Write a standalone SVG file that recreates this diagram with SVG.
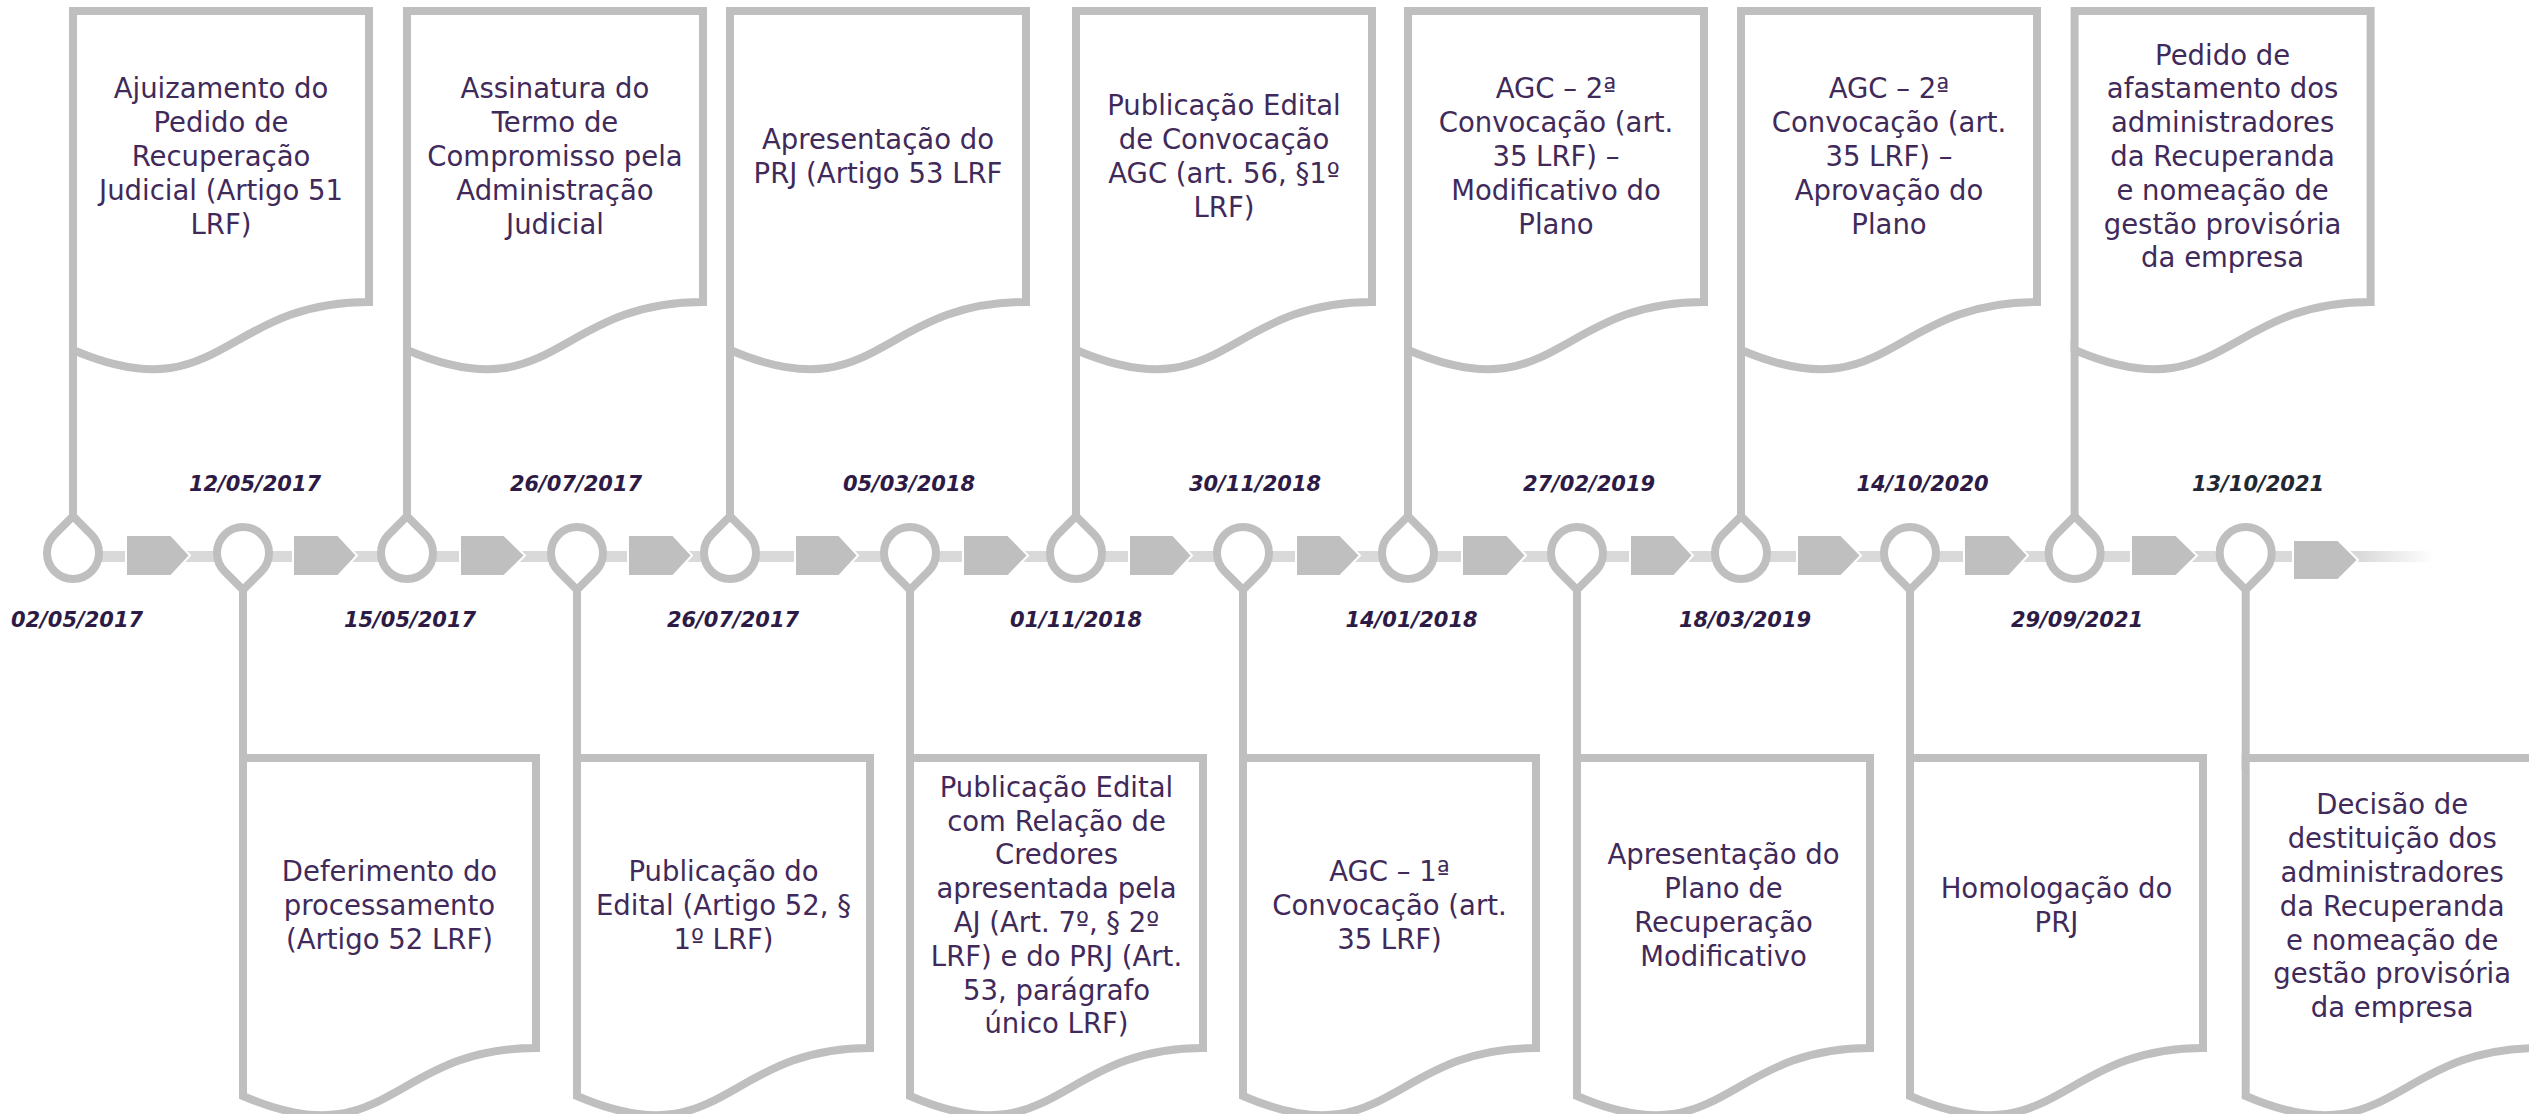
<svg xmlns="http://www.w3.org/2000/svg" width="2529" height="1114" viewBox="0 0 2529 1114">
<defs>
<style>
.box{fill:#fff;stroke:#bfbfbf;stroke-width:8;stroke-linejoin:miter}
.stem{stroke:#bfbfbf;stroke-width:8;fill:none}
.pin{fill:#fff;stroke:#bfbfbf;stroke-width:8;stroke-linejoin:miter}
.arrow{fill:#bfbfbf;stroke:#fff;stroke-width:2}
.t{font-family:"DejaVu Sans","Liberation Sans",sans-serif;font-size:27.5px;fill:#3f2a5a;text-anchor:middle}
.d{font-family:"DejaVu Sans","Liberation Sans",sans-serif;font-size:21px;font-weight:bold;font-style:italic;fill:#2d1b45;text-anchor:middle}
</style>
<linearGradient id="fade" x1="0" y1="0" x2="1" y2="0">
<stop offset="0" stop-color="#d9d9d9"/>
<stop offset="1" stop-color="#d9d9d9" stop-opacity="0"/>
</linearGradient>
</defs>
<rect width="2529" height="1114" fill="#fff"/>

<g id="connectors">
<rect x="73" y="551" width="2287" height="11" fill="#d9d9d9"/>
<rect x="2358" y="551" width="75" height="11" fill="url(#fade)"/>
<path class="arrow" d="M126,535H171L190,555.5L171,576H126Z"/>
<path class="arrow" d="M293,535H338L357,555.5L338,576H293Z"/>
<path class="arrow" d="M460,535H504L525,555.5L504,576H460Z"/>
<path class="arrow" d="M628,535H673L692,555.5L673,576H628Z"/>
<path class="arrow" d="M795,535H839L858,555.5L839,576H795Z"/>
<path class="arrow" d="M963,535H1008L1028,555.5L1008,576H963Z"/>
<path class="arrow" d="M1129,535H1173L1192,555.5L1173,576H1129Z"/>
<path class="arrow" d="M1296,535H1340L1360,555.5L1340,576H1296Z"/>
<path class="arrow" d="M1462,535H1507L1526,555.5L1507,576H1462Z"/>
<path class="arrow" d="M1630,535H1674L1693,555.5L1674,576H1630Z"/>
<path class="arrow" d="M1797,535H1841L1861,555.5L1841,576H1797Z"/>
<path class="arrow" d="M1964,535H2009L2028,555.5L2009,576H1964Z"/>
<path class="arrow" d="M2131,535H2176L2197,555.5L2176,576H2131Z"/>
<path class="arrow" d="M2293,540H2338L2358,560L2338,580H2293Z"/>
</g>

<g id="e1">
<line class="stem" x1="73" y1="340" x2="73" y2="516"/>
<path class="pin" d="M54.62,534.62L73,516.23L91.38,534.62A26,26 0 1 1 54.62,534.62Z"/>
<path class="box" d="M73,11H369V302C221,302 221,413 73,350Z"/>
<text class="t"><tspan x="221" y="98.4">Ajuizamento do</tspan><tspan x="221" y="132.2">Pedido de</tspan><tspan x="221" y="166">Recuperação</tspan><tspan x="221" y="199.8">Judicial (Artigo 51</tspan><tspan x="221" y="233.6">LRF)</tspan></text>
<text class="d" x="77" y="627">02/05/2017</text>
</g>

<g id="e2">
<line class="stem" x1="243" y1="589" x2="243" y2="770"/>
<path class="pin" d="M261.38,571.38L243,589.77L224.62,571.38A26,26 0 1 1 261.38,571.38Z"/>
<path class="box" d="M243,758H536V1048C389.5,1048 389.5,1159 243,1096Z"/>
<text class="t"><tspan x="389.5" y="881.2">Deferimento do</tspan><tspan x="389.5" y="915">processamento</tspan><tspan x="389.5" y="948.8">(Artigo 52 LRF)</tspan></text>
<text class="d" x="255" y="491">12/05/2017</text>
</g>

<g id="e3">
<line class="stem" x1="407" y1="340" x2="407" y2="516"/>
<path class="pin" d="M388.62,534.62L407,516.23L425.38,534.62A26,26 0 1 1 388.62,534.62Z"/>
<path class="box" d="M407,11H703V302C555,302 555,413 407,350Z"/>
<text class="t"><tspan x="555" y="98.4">Assinatura do</tspan><tspan x="555" y="132.2">Termo de</tspan><tspan x="555" y="166">Compromisso pela</tspan><tspan x="555" y="199.8">Administração</tspan><tspan x="555" y="233.6">Judicial</tspan></text>
<text class="d" x="410" y="627">15/05/2017</text>
</g>

<g id="e4">
<line class="stem" x1="577" y1="589" x2="577" y2="770"/>
<path class="pin" d="M595.38,571.38L577,589.77L558.62,571.38A26,26 0 1 1 595.38,571.38Z"/>
<path class="box" d="M577,758H870V1048C723.5,1048 723.5,1159 577,1096Z"/>
<text class="t"><tspan x="723.5" y="881.2">Publicação do</tspan><tspan x="723.5" y="915">Edital (Artigo 52, §</tspan><tspan x="723.5" y="948.8">1º LRF)</tspan></text>
<text class="d" x="576" y="491">26/07/2017</text>
</g>

<g id="e5">
<line class="stem" x1="730" y1="340" x2="730" y2="516"/>
<path class="pin" d="M711.62,534.62L730,516.23L748.38,534.62A26,26 0 1 1 711.62,534.62Z"/>
<path class="box" d="M730,11H1026V302C878,302 878,413 730,350Z"/>
<text class="t"><tspan x="878" y="149.1">Apresentação do</tspan><tspan x="878" y="182.9">PRJ (Artigo 53 LRF</tspan></text>
<text class="d" x="733" y="627">26/07/2017</text>
</g>

<g id="e6">
<line class="stem" x1="910" y1="589" x2="910" y2="770"/>
<path class="pin" d="M928.38,571.38L910,589.77L891.62,571.38A26,26 0 1 1 928.38,571.38Z"/>
<path class="box" d="M910,758H1203V1048C1056.5,1048 1056.5,1159 910,1096Z"/>
<text class="t"><tspan x="1056.5" y="796.7">Publicação Edital</tspan><tspan x="1056.5" y="830.5">com Relação de</tspan><tspan x="1056.5" y="864.3">Credores</tspan><tspan x="1056.5" y="898.1">apresentada pela</tspan><tspan x="1056.5" y="931.9">AJ (Art. 7º, § 2º</tspan><tspan x="1056.5" y="965.7">LRF) e do PRJ (Art.</tspan><tspan x="1056.5" y="999.5">53, parágrafo</tspan><tspan x="1056.5" y="1033.3">único LRF)</tspan></text>
<text class="d" x="909" y="491">05/03/2018</text>
</g>

<g id="e7">
<line class="stem" x1="1076" y1="340" x2="1076" y2="516"/>
<path class="pin" d="M1057.62,534.62L1076,516.23L1094.38,534.62A26,26 0 1 1 1057.62,534.62Z"/>
<path class="box" d="M1076,11H1372V302C1224,302 1224,413 1076,350Z"/>
<text class="t"><tspan x="1224" y="115.3">Publicação Edital</tspan><tspan x="1224" y="149.1">de Convocação</tspan><tspan x="1224" y="182.9">AGC (art. 56, §1º</tspan><tspan x="1224" y="216.7">LRF)</tspan></text>
<text class="d" x="1076" y="627">01/11/2018</text>
</g>

<g id="e8">
<line class="stem" x1="1243" y1="589" x2="1243" y2="770"/>
<path class="pin" d="M1261.38,571.38L1243,589.77L1224.62,571.38A26,26 0 1 1 1261.38,571.38Z"/>
<path class="box" d="M1243,758H1536V1048C1389.5,1048 1389.5,1159 1243,1096Z"/>
<text class="t"><tspan x="1389.5" y="881.2">AGC – 1ª</tspan><tspan x="1389.5" y="915">Convocação (art.</tspan><tspan x="1389.5" y="948.8">35 LRF)</tspan></text>
<text class="d" x="1255" y="491">30/11/2018</text>
</g>

<g id="e9">
<line class="stem" x1="1408" y1="340" x2="1408" y2="516"/>
<path class="pin" d="M1389.62,534.62L1408,516.23L1426.38,534.62A26,26 0 1 1 1389.62,534.62Z"/>
<path class="box" d="M1408,11H1704V302C1556,302 1556,413 1408,350Z"/>
<text class="t"><tspan x="1556" y="98.4">AGC – 2ª</tspan><tspan x="1556" y="132.2">Convocação (art.</tspan><tspan x="1556" y="166">35 LRF) –</tspan><tspan x="1556" y="199.8">Modificativo do</tspan><tspan x="1556" y="233.6">Plano</tspan></text>
<text class="d" x="1411.5" y="627">14/01/2018</text>
</g>

<g id="e10">
<line class="stem" x1="1577" y1="589" x2="1577" y2="770"/>
<path class="pin" d="M1595.38,571.38L1577,589.77L1558.62,571.38A26,26 0 1 1 1595.38,571.38Z"/>
<path class="box" d="M1577,758H1870V1048C1723.5,1048 1723.5,1159 1577,1096Z"/>
<text class="t"><tspan x="1723.5" y="864.3">Apresentação do</tspan><tspan x="1723.5" y="898.1">Plano de</tspan><tspan x="1723.5" y="931.9">Recuperação</tspan><tspan x="1723.5" y="965.7">Modificativo</tspan></text>
<text class="d" x="1589" y="491">27/02/2019</text>
</g>

<g id="e11">
<line class="stem" x1="1741" y1="340" x2="1741" y2="516"/>
<path class="pin" d="M1722.62,534.62L1741,516.23L1759.38,534.62A26,26 0 1 1 1722.62,534.62Z"/>
<path class="box" d="M1741,11H2037V302C1889,302 1889,413 1741,350Z"/>
<text class="t"><tspan x="1889" y="98.4">AGC – 2ª</tspan><tspan x="1889" y="132.2">Convocação (art.</tspan><tspan x="1889" y="166">35 LRF) –</tspan><tspan x="1889" y="199.8">Aprovação do</tspan><tspan x="1889" y="233.6">Plano</tspan></text>
<text class="d" x="1745" y="627">18/03/2019</text>
</g>

<g id="e12">
<line class="stem" x1="1910" y1="589" x2="1910" y2="770"/>
<path class="pin" d="M1928.38,571.38L1910,589.77L1891.62,571.38A26,26 0 1 1 1928.38,571.38Z"/>
<path class="box" d="M1910,758H2203V1048C2056.5,1048 2056.5,1159 1910,1096Z"/>
<text class="t"><tspan x="2056.5" y="898.1">Homologação do</tspan><tspan x="2056.5" y="931.9">PRJ</tspan></text>
<text class="d" x="1922.5" y="491">14/10/2020</text>
</g>

<g id="e13">
<line class="stem" x1="2074.6" y1="340" x2="2074.6" y2="516"/>
<path class="pin" d="M2056.22,534.62L2074.6,516.23L2092.98,534.62A26,26 0 1 1 2056.22,534.62Z"/>
<path class="box" d="M2074.6,11H2370.6V302C2222.6,302 2222.6,413 2074.6,350Z"/>
<text class="t"><tspan x="2222.6" y="64.6">Pedido de</tspan><tspan x="2222.6" y="98.4">afastamento dos</tspan><tspan x="2222.6" y="132.2">administradores</tspan><tspan x="2222.6" y="166">da Recuperanda</tspan><tspan x="2222.6" y="199.8">e nomeação de</tspan><tspan x="2222.6" y="233.6">gestão provisória</tspan><tspan x="2222.6" y="267.4">da empresa</tspan></text>
<text class="d" x="2077" y="627">29/09/2021</text>
</g>

<g id="e14">
<line class="stem" x1="2245.7" y1="589" x2="2245.7" y2="770"/>
<path class="pin" d="M2264.08,571.38L2245.7,589.77L2227.32,571.38A26,26 0 1 1 2264.08,571.38Z"/>
<path class="box" d="M2245.7,758H2538.7V1048C2392.2,1048 2392.2,1159 2245.7,1096Z"/>
<text class="t"><tspan x="2392.2" y="814.4">Decisão de</tspan><tspan x="2392.2" y="848.2">destituição dos</tspan><tspan x="2392.2" y="882">administradores</tspan><tspan x="2392.2" y="915.8">da Recuperanda</tspan><tspan x="2392.2" y="949.6">e nomeação de</tspan><tspan x="2392.2" y="983.4">gestão provisória</tspan><tspan x="2392.2" y="1017.2">da empresa</tspan></text>
<text class="d" x="2258" y="491" style="fill:#1f2833">13/10/2021</text>
</g>
</svg>
